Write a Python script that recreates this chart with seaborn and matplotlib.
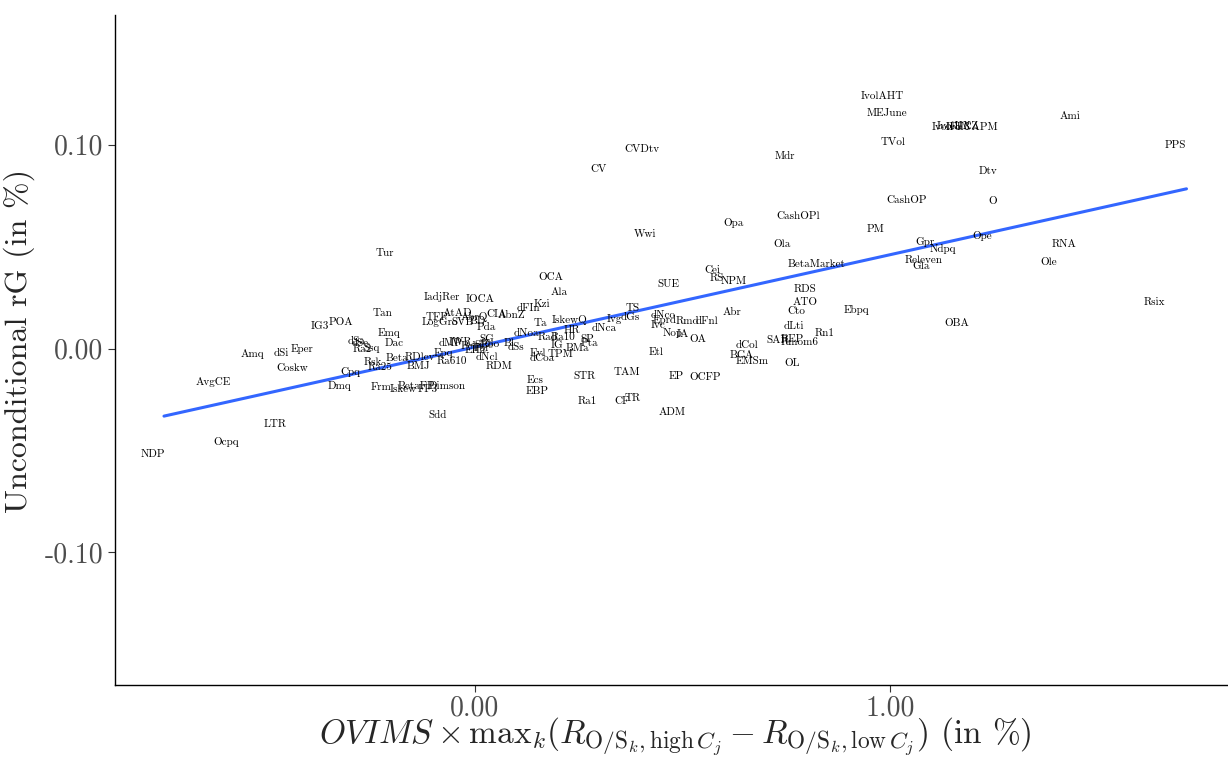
import numpy as np
import pandas as pd
import matplotlib
matplotlib.use("Agg")
import matplotlib.pyplot as plt
import seaborn as sns

# Anomaly names and their coordinates
labels = [
    "NDP", "Ocpq", "LTR", "AvgCE", "Amq", "dSi", "Eper", "Coskw", "IG3", "POA",
    "Tan", "Emq", "Dac", "dSa", "dSe", "Ra2", "Ssq", "Cpq", "Dmq", "Rsk",
    "Ra25", "Beta", "RDlev", "BMJ", "Ra610", "Epq", "Frm", "Iskew", "FF3", "BetaFP",
    "Dimson", "Sdd", "Tur", "IadjRer", "IOCA", "TFP", "AtAD", "AbrQ", "CIA", "AbnZ",
    "LogGro", "SVB", "BD", "Pda", "dMP", "IWR", "Pcb", "EHa", "Tbi", "SBe",
    "Ebo", "SG", "dNcl", "RDM", "Bl", "dSs", "dNoa", "Ta", "dFIn", "Kzi",
    "OCA", "Ala", "IskewQ", "HR", "dNca", "Ivg", "dGs", "TS", "Rad", "Ra10",
    "IG", "BMa", "SP", "Pta", "TPM", "Evl", "dCoa", "STR", "TAM", "Ra1",
    "CF", "TR", "Ecs", "EBP", "Etl", "dNco", "Eprd", "Ivc", "Rmd", "dFnl",
    "Nop", "IA", "OA", "Abr", "EP", "OCFP", "ADM", "dCol", "BCA", "EMSm",
    "RDS", "ATO", "Cto", "dLti", "SAR", "REP", "Rmom6", "Rn1", "OL", "Ebpq",
    "BetaMarket", "CVDtv", "CV", "Mdr", "CashOPl", "Opa", "Wwi", "Ola", "Cei", "RS",
    "NPM", "SUE", "IvolAHT", "MEJune", "IvolFF3", "IvolHXZ", "IvolCAPM", "TVol", "Ami", "PPS",
    "Dtv", "CashOP", "O", "PM", "Gpr", "Ndpq", "Ope", "RNA", "Ole", "Releven",
    "Gla", "Rsix", "OBA",
]

ovims_spread = [
    -0.749, -0.571, -0.455, -0.604, -0.510, -0.440, -0.390, -0.414, -0.346, -0.296,
    -0.195, -0.180, -0.168, -0.257, -0.250, -0.245, -0.221, -0.274, -0.298, -0.219,
    -0.202, -0.161, -0.106, -0.108, -0.028, -0.050, -0.200, -0.146, -0.086, -0.113,
    -0.040, -0.062, -0.190, -0.053, 0.039, -0.065, -0.014, 0.025, 0.080, 0.116,
    -0.057, -0.002, 0.034, 0.054, -0.031, -0.009, 0.015, 0.029, 0.039, 0.049,
    0.063, 0.056, 0.056, 0.085, 0.109, 0.126, 0.152, 0.184, 0.155, 0.188,
    0.210, 0.229, 0.256, 0.261, 0.338, 0.364, 0.400, 0.408, 0.203, 0.239,
    0.225, 0.275, 0.297, 0.304, 0.232, 0.179, 0.188, 0.292, 0.393, 0.297,
    0.381, 0.408, 0.172, 0.176, 0.463, 0.480, 0.485, 0.468, 0.540, 0.586,
    0.504, 0.528, 0.564, 0.646, 0.511, 0.581, 0.502, 0.682, 0.670, 0.694,
    0.822, 0.822, 0.800, 0.796, 0.757, 0.791, 0.810, 0.870, 0.791, 0.945,
    0.851, 0.429, 0.326, 0.774, 0.805, 0.649, 0.437, 0.767, 0.600, 0.610,
    0.651, 0.492, 1.008, 1.020, 1.174, 1.191, 1.225, 1.034, 1.461, 1.714,
    1.263, 1.068, 1.273, 0.991, 1.111, 1.155, 1.249, 1.446, 1.410, 1.109,
    1.102, 1.663, 1.188,
]

uncond_rg = [
    -0.0516, -0.0457, -0.0369, -0.0162, -0.0025, -0.0025, 0.0000, -0.0098, 0.0108, 0.0128,
    0.0172, 0.0074, 0.0025, 0.0034, 0.0025, -0.0005, 0.0005, -0.0113, -0.0182, -0.0069,
    -0.0093, -0.0049, -0.0044, -0.0088, -0.0064, -0.0020, -0.0192, -0.0201, -0.0201, -0.0187,
    -0.0187, -0.0329, 0.0467, 0.0251, 0.0241, 0.0152, 0.0172, 0.0157, 0.0167, 0.0162,
    0.0128, 0.0128, 0.0133, 0.0103, 0.0025, 0.0029, 0.0010, -0.0010, 0.0000, 0.0015,
    0.0020, 0.0044, -0.0044, -0.0088, 0.0025, 0.0005, 0.0074, 0.0123, 0.0197, 0.0216,
    0.0349, 0.0275, 0.0138, 0.0088, 0.0098, 0.0147, 0.0152, 0.0197, 0.0054, 0.0054,
    0.0015, 0.0000, 0.0044, 0.0025, -0.0029, -0.0025, -0.0049, -0.0138, -0.0118, -0.0256,
    -0.0256, -0.0246, -0.0157, -0.0211, -0.0020, 0.0162, 0.0138, 0.0113, 0.0133, 0.0133,
    0.0074, 0.0069, 0.0044, 0.0177, -0.0138, -0.0143, -0.0310, 0.0015, -0.0034, -0.0064,
    0.0290, 0.0226, 0.0182, 0.0108, 0.0039, 0.0044, 0.0029, 0.0074, -0.0074, 0.0187,
    0.0413, 0.0978, 0.0880, 0.0943, 0.0649, 0.0614, 0.0560, 0.0511, 0.0383, 0.0344,
    0.0329, 0.0314, 0.1238, 0.1155, 0.1086, 0.1091, 0.1086, 0.1012, 0.1140, 0.0998,
    0.0870, 0.0727, 0.0722, 0.0585, 0.0521, 0.0486, 0.0550, 0.0511, 0.0423, 0.0432,
    0.0403, 0.0226, 0.0123,
]

x_ticks = [0.0, 1.0]
x_tick_labels = ["0.00", "1.00"]
y_ticks = [-0.10, 0.0, 0.10]
y_tick_labels = ["-0.10", "0.00", "0.10"]

# names are drawn slightly to the left of their points
label_nudge_x = -0.027

df = pd.DataFrame({"anomaly": labels, "x": ovims_spread, "y": uncond_rg})

sns.set_theme(style="ticks")
plt.rcParams["font.family"] = ["cmr10", "DejaVu Serif"]
plt.rcParams["mathtext.fontset"] = "cm"
plt.rcParams["axes.formatter.use_mathtext"] = True
plt.rcParams["axes.unicode_minus"] = False

fig = plt.figure(figsize=(12.28, 7.6), dpi=100)
ax = fig.add_axes([115 / 1228, 75 / 760, 1113 / 1228, 670 / 760])

# Linear fit through all anomalies
sns.regplot(data=df, x="x", y="y", scatter=False, ci=None, truncate=True,
            color="#3366FF", line_kws={"lw": 2.2}, ax=ax)

# Anomaly names
for lab, xv, yv in zip(df["anomaly"], df["x"], df["y"]):
    ax.text(xv + label_nudge_x, yv, lab, ha="center", va="center",
            fontsize=8, color="black")

ax.set_xlim(-0.867, 1.814)
ax.set_ylim(-0.165, 0.1636)
ax.set_xticks(x_ticks)
ax.set_xticklabels(x_tick_labels)
ax.set_yticks(y_ticks)
ax.set_yticklabels(y_tick_labels)
ax.tick_params(axis="both", labelsize=20, labelcolor="#4d4d4d", color="#333333",
               length=5, width=0.8)
ax.tick_params(axis="x", pad=2)

sns.despine(ax=ax)
for side in ("left", "bottom"):
    ax.spines[side].set_linewidth(1.0)
    ax.spines[side].set_color("black")

ax.set_xlabel(r"$OVIMS \times \mathrm{max}_k(R_{\mathrm{O/S}_k,\mathrm{high}\,C_j}"
              r" - R_{\mathrm{O/S}_k,\mathrm{low}\,C_j})$ (in %)",
              fontsize=24)
ax.xaxis.set_label_coords(0.503, -0.046)
ax.set_ylabel("Unconditional rG (in %)", fontsize=23)
ax.yaxis.set_label_coords(-0.072, 0.513)

fig.savefig("out.png", dpi=100)
